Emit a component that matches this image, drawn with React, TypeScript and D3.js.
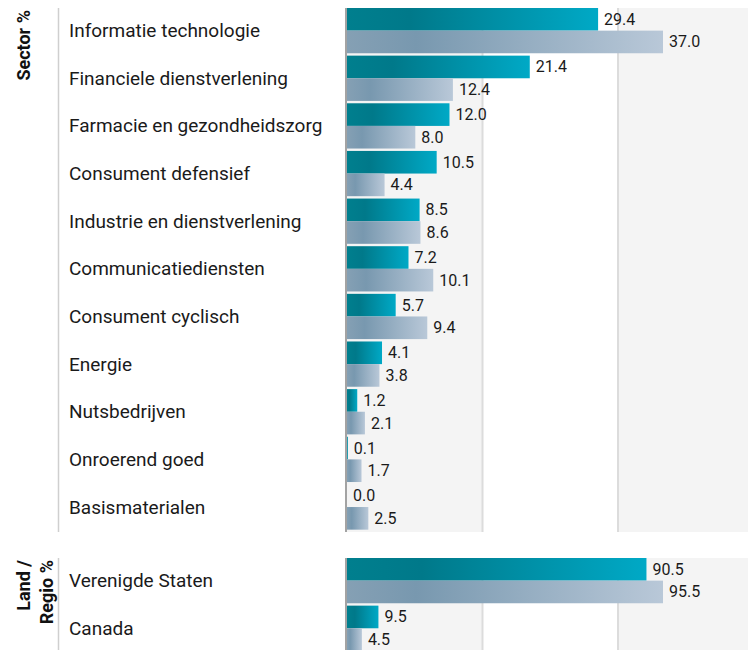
import React from "react";
import * as d3 from "d3";

const sectorCategories = [
  "Informatie technologie",
  "Financiele dienstverlening",
  "Farmacie en gezondheidszorg",
  "Consument defensief",
  "Industrie en dienstverlening",
  "Communicatiediensten",
  "Consument cyclisch",
  "Energie",
  "Nutsbedrijven",
  "Onroerend goed",
  "Basismaterialen",
];
const sectorFund = [29.4, 21.4, 12.0, 10.5, 8.5, 7.2, 5.7, 4.1, 1.2, 0.1, 0.0];
const sectorBenchmark = [37.0, 12.4, 8.0, 4.4, 8.6, 10.1, 9.4, 3.8, 2.1, 1.7, 2.5];

const regionCategories = ["Verenigde Staten", "Canada"];
const regionFund = [90.5, 9.5];
const regionBenchmark = [95.5, 4.5];

const W = 748;
const H = 650;
const plotLeft = 347;
const barMaxRight = 663;
const bandW = 135.5;
const labelX = 69;
const sepX = 58.5;
const rowStep = 47.64;

type SectionProps = {
  top: number;
  rows: number;
  categories: string[];
  fund: number[];
  bench: number[];
  titleLines: string[];
  clipBottom: number;
};

function Section({ top, rows, categories, fund, bench, titleLines, clipBottom }: SectionProps) {
  const bottom = top + rows * rowStep;
  const y = d3
    .scaleBand<string>()
    .domain(categories)
    .range([top, bottom])
    .paddingInner(0.05)
    .paddingOuter(0.025)
    .align(0);
  const maxV = d3.max([...fund, ...bench]) as number;
  const x = d3.scaleLinear().domain([0, maxV]).range([plotLeft, barMaxRight]);
  const bw = y.bandwidth() / 2;
  const sectBottom = Math.min(bottom, clipBottom);
  const bands = d3.range(3);
  const titleBaselines = titleLines.length === 1 ? [29.5] : [30, 53];
  return (
    <g>
      {bands.map((i) => (
        <rect
          key={"b" + i}
          x={plotLeft + i * bandW}
          y={top}
          width={bandW}
          height={sectBottom - top}
          fill={i % 2 === 0 ? "#f4f4f4" : "#ffffff"}
        />
      ))}
      {[1, 2].map((i) => (
        <line
          key={"g" + i}
          x1={plotLeft + i * bandW}
          x2={plotLeft + i * bandW}
          y1={top}
          y2={sectBottom}
          stroke="#dcdcdc"
          strokeWidth={2}
        />
      ))}
      <line x1={plotLeft - 1} x2={plotLeft - 1} y1={top} y2={sectBottom} stroke="#a3a3a3" strokeWidth={2} />
      <line x1={sepX} x2={sepX} y1={top} y2={sectBottom} stroke="#cfcfcf" strokeWidth={1.5} />
      {titleLines.map((t, i) => (
        <text
          key={"t" + i}
          transform={`translate(${titleBaselines[i]},${top + 2}) rotate(-90)`}
          textAnchor="end"
          fontFamily="Roboto"
          fontWeight="bold"
          fontSize={18}
          fill="#111"
        >
          {t}
        </text>
      ))}
      {categories.map((c, i) => {
        const y0 = y(c) as number;
        return (
          <g key={c}>
            <text
              x={labelX}
              y={y0 + y.bandwidth() / 2}
              dominantBaseline="central"
              fontFamily="Roboto"
              fontSize={19}
              fill="#1a1a1a"
            >
              {c}
            </text>
            <rect x={plotLeft} y={y0} width={x(fund[i]) - plotLeft} height={bw} fill="url(#gradTeal)" />
            <rect x={plotLeft} y={y0 + bw} width={x(bench[i]) - plotLeft} height={bw} fill="url(#gradGray)" />
            <text
              x={x(fund[i]) + 6}
              y={y0 + bw / 2}
              dominantBaseline="central"
              fontFamily="Roboto"
              fontSize={16}
              fill="#1a1a1a"
            >
              {d3.format(".1f")(fund[i])}
            </text>
            <text
              x={x(bench[i]) + 6}
              y={y0 + bw * 1.5}
              dominantBaseline="central"
              fontFamily="Roboto"
              fontSize={16}
              fill="#1a1a1a"
            >
              {d3.format(".1f")(bench[i])}
            </text>
          </g>
        );
      })}
    </g>
  );
}

export default function App() {
  return (
    <svg
      width={W}
      height={H}
      viewBox={`0 0 ${W} ${H}`}
      style={{ position: "absolute", left: 0, top: 0, display: "block", background: "#fff" }}
    >
      <defs>
        <linearGradient id="gradTeal" x1="0" x2="1" y1="0" y2="0">
          <stop offset="0" stopColor="#007f8e" />
          <stop offset="0.25" stopColor="#00798a" />
          <stop offset="1" stopColor="#00a9c6" />
        </linearGradient>
        <linearGradient id="gradGray" x1="0" x2="1" y1="0" y2="0">
          <stop offset="0" stopColor="#85a0b4" />
          <stop offset="0.22" stopColor="#7898af" />
          <stop offset="1" stopColor="#b9c8d8" />
        </linearGradient>
      </defs>
      <rect x={0} y={0} width={W} height={H} fill="#fff" />
      <Section
        top={8}
        rows={sectorCategories.length}
        categories={sectorCategories}
        fund={sectorFund}
        bench={sectorBenchmark}
        titleLines={["Sector %"]}
        clipBottom={H}
      />
      <Section
        top={558}
        rows={regionCategories.length}
        categories={regionCategories}
        fund={regionFund}
        bench={regionBenchmark}
        titleLines={["Land /", "Regio %"]}
        clipBottom={H}
      />
    </svg>
  );
}
